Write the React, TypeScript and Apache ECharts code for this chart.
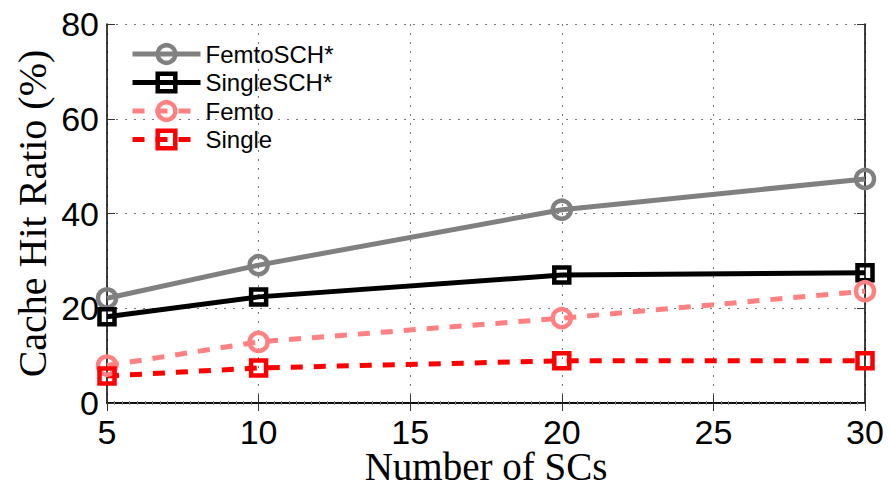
import React, { useEffect, useRef } from "react";
import * as echarts from "echarts";

// Number of small cells on the x axis
const scCounts = [5, 10, 20, 30];

// Cache hit ratio (%) per scheme
const femtoSchStar = [22.1, 29.1, 40.8, 47.3];
const singleSchStar = [18.2, 22.4, 27.0, 27.5];
const femto = [7.9, 12.9, 17.9, 23.6];
const single = [5.7, 7.4, 8.9, 8.9];

const seriesNames = ["FemtoSCH*", "SingleSCH*", "Femto", "Single"];
const seriesColors = ["#808080", "#000000", "#ff8080", "#ff0000"];
const seriesSymbols = ["circle", "rect", "circle", "rect"];
const seriesDashed = [false, false, true, true];

const sansFont = "Liberation Sans, Arial, Helvetica, sans-serif";
const serifFont = "Liberation Serif, Times New Roman, serif";

const LINE_W = 5;
const BORDER_W = 4.5;
const DASH = [12, 11];

const pair = (values: number[]) => scCounts.map((x, i) => [x, values[i]]);

function makeSeries(i: number, values: number[]) {
  const color = seriesColors[i];
  const isCircle = seriesSymbols[i] === "circle";
  return {
    name: seriesNames[i],
    type: "line",
    data: pair(values),
    symbol: seriesSymbols[i],
    symbolSize: isCircle ? 18 : 15,
    showSymbol: true,
    lineStyle: {
      color,
      width: LINE_W,
      type: seriesDashed[i] ? DASH : "solid",
    },
    itemStyle: {
      color: "rgba(0,0,0,0)",
      borderColor: color,
      borderWidth: BORDER_W,
    },
    emphasis: { disabled: true },
    z: 3,
  };
}

export default function App() {
  const ref = useRef<HTMLDivElement>(null);

  useEffect(() => {
    if (!ref.current) return;
    const chart = echarts.init(ref.current, null, { renderer: "svg" });

    const boxAxisLine = { show: true, lineStyle: { color: "#000", width: 1.5 } };
    const innerTick = { show: true, inside: true, length: 8, lineStyle: { color: "#333", width: 1 } };
    const dotted = { show: true, lineStyle: { color: "#777", width: 1, type: [2, 7] } };
    const minorTick = { show: true, splitNumber: 20, length: 2, lineStyle: { color: "#888" } };

    chart.setOption({
      animation: false,
      backgroundColor: "#fff",
      grid: {
        left: 107,
        right: 24,
        top: 24,
        bottom: 84,
        containLabel: false,
        outerBoundsMode: "none",
      },
      legend: {
        show: true,
        orient: "vertical",
        left: 130,
        top: 42,
        padding: 0,
        itemWidth: 68,
        itemHeight: 22,
        itemGap: 4.5,
        itemTextGap: 9,
        data: seriesNames.map((name, i) => ({
          name,
          itemStyle: {
            color: "rgba(0,0,0,0)",
            borderColor: seriesColors[i],
            borderWidth: BORDER_W,
          },
          lineStyle: {
            color: seriesColors[i],
            width: LINE_W,
            type: seriesDashed[i] ? DASH : "solid",
          },
        })),
        textStyle: { fontFamily: sansFont, fontSize: 24, lineHeight: 22, color: "#000" },
      },
      xAxis: [
        {
          type: "value",
          min: 5,
          max: 30,
          interval: 5,
          position: "bottom",
          name: "Number of SCs",
          nameLocation: "middle",
          nameGap: 45,
          nameMoveOverlap: false,
          nameTextStyle: { fontFamily: serifFont, fontSize: 39, lineHeight: 36, color: "#000" },
          axisLine: boxAxisLine,
          axisTick: innerTick,
          minorTick,
          axisLabel: { fontFamily: sansFont, fontSize: 34, lineHeight: 28, color: "#000", margin: 15 },
          splitLine: dotted,
        },
        {
          type: "value",
          min: 5,
          max: 30,
          interval: 5,
          position: "top",
          axisLine: boxAxisLine,
          axisTick: innerTick,
          minorTick,
          axisLabel: { show: false },
          splitLine: { show: false },
        },
      ],
      yAxis: [
        {
          type: "value",
          min: 0,
          max: 80,
          interval: 20,
          position: "left",
          name: "Cache Hit Ratio (%)",
          nameLocation: "middle",
          nameGap: 55,
          nameMoveOverlap: false,
          nameTextStyle: { fontFamily: serifFont, fontSize: 40, color: "#000" },
          axisLine: boxAxisLine,
          axisTick: innerTick,
          axisLabel: { fontFamily: sansFont, fontSize: 34, color: "#000", margin: 8 },
          splitLine: dotted,
        },
        {
          type: "value",
          min: 0,
          max: 80,
          interval: 20,
          position: "right",
          axisLine: boxAxisLine,
          axisTick: innerTick,
          axisLabel: { show: false },
          splitLine: { show: false },
        },
      ],
      series: [
        makeSeries(0, femtoSchStar),
        makeSeries(1, singleSchStar),
        makeSeries(2, femto),
        makeSeries(3, single),
      ],
    });

    return () => chart.dispose();
  }, []);

  return (
    <div
      ref={ref}
      style={{ position: "fixed", left: 0, top: 0, width: 889, height: 487 }}
    />
  );
}
